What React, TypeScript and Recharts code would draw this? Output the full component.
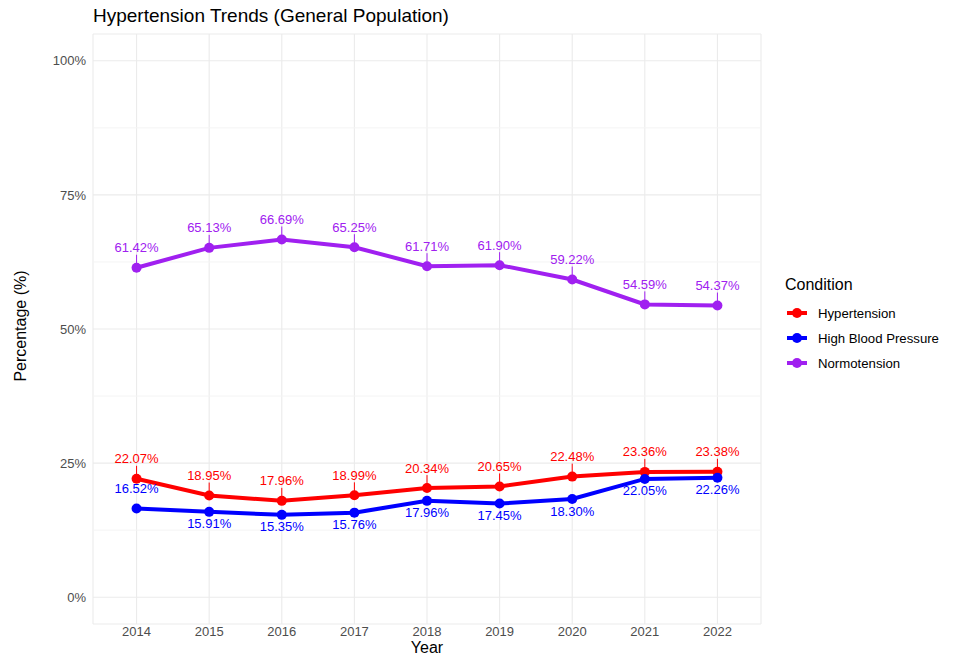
import { CartesianGrid, LabelList, Line, LineChart, ReferenceLine, XAxis, YAxis } from "recharts"

const years = [2014, 2015, 2016, 2017, 2018, 2019, 2020, 2021, 2022]
const hypertension = [22.07, 18.95, 17.96, 18.99, 20.34, 20.65, 22.48, 23.36, 23.38]
const highBloodPressure = [16.52, 15.91, 15.35, 15.76, 17.96, 17.45, 18.3, 22.05, 22.26]
const normotension = [61.42, 65.13, 66.69, 65.25, 61.71, 61.9, 59.22, 54.59, 54.37]
const yTicks = [0, 25, 50, 75, 100]
const yMinor = [12.5, 37.5, 62.5, 87.5]

const data = years.map((year, i) => ({
    year,
    hypertension: hypertension[i],
    hbp: highBloodPressure[i],
    normo: normotension[i],
}))

// High Blood Pressure labels sit under the points, except where there's room above
const hbpAbove = [2014]

const FONT = '"Liberation Sans", Arial, Helvetica, sans-serif'

const series = [
    { key: 'hypertension', name: 'Hypertension', color: '#FF0000' },
    { key: 'hbp', name: 'High Blood Pressure', color: '#0000FF' },
    { key: 'normo', name: 'Normotension', color: '#A020F0' },
]

function makeLabel(color: string, isBelow: (i: number) => boolean, segment: boolean) {
    return (props: any) => {
        const { x, y, value, index } = props
        if (x == null || y == null) return null
        const below = isBelow(index)
        const ty = below ? y + 12 : y - 20
        return (
            <g>
                {segment && !below && <line x1={x} x2={x} y1={y - 4} y2={y - 13} stroke={color} strokeWidth={1} />}
                <text x={x} y={ty} textAnchor="middle" dominantBaseline="central" fill={color} fontSize={13} fontFamily={FONT}>
                    {`${Number(value).toFixed(2)}%`}
                </text>
            </g>
        )
    }
}

export default function App() {
    return (
        <div style={{ position: 'absolute', left: 0, top: 0, width: 965, height: 657, background: '#fff', fontFamily: FONT }}>
            <div style={{ position: 'absolute', left: 93, top: 5, fontSize: 19, color: '#000', whiteSpace: 'nowrap' }}>
                Hypertension Trends (General Population)
            </div>
            <LineChart width={965} height={657} data={data} margin={{ top: 34, right: 204, bottom: 0, left: 33 }}>
                <CartesianGrid stroke="#EBEBEB" strokeWidth={1.1} />
                {yMinor.map((v) => (
                    <ReferenceLine key={v} y={v} stroke="#F4F4F4" strokeWidth={1} />
                ))}
                <XAxis
                    dataKey="year"
                    type="number"
                    domain={[2013.4, 2022.6]}
                    ticks={years}
                    allowDataOverflow
                    tickLine={false}
                    axisLine={false}
                    tickSize={0}
                    tickMargin={3}
                    height={33}
                    tick={{ fill: '#4D4D4D', fontSize: 13, fontFamily: FONT }}
                />
                <YAxis
                    type="number"
                    domain={[-5, 105]}
                    ticks={yTicks}
                    allowDataOverflow
                    tickLine={false}
                    axisLine={false}
                    tickSize={0}
                    tickMargin={7}
                    width={60}
                    tickFormatter={(v) => `${v}%`}
                    tick={{ fill: '#4D4D4D', fontSize: 13, fontFamily: FONT }}
                />
                {series.map((s) => (
                    <Line
                        key={s.key}
                        dataKey={s.key}
                        name={s.name}
                        stroke={s.color}
                        strokeWidth={4}
                        dot={{ r: 5, fill: s.color, stroke: s.color, strokeWidth: 0 }}
                        activeDot={false}
                        isAnimationActive={false}
                    >
                        <LabelList
                            dataKey={s.key}
                            content={makeLabel(
                                s.color,
                                s.key === 'hbp' ? (i: number) => !hbpAbove.includes(years[i]) : () => false,
                                s.key !== 'hbp'
                            )}
                        />
                    </Line>
                ))}
            </LineChart>
            <div style={{ position: 'absolute', left: 427, top: 648, transform: 'translate(-50%, -50%)', fontSize: 16 }}>Year</div>
            <div
                style={{
                    position: 'absolute',
                    left: 21,
                    top: 326,
                    transform: 'translate(-50%, -50%) rotate(-90deg)',
                    fontSize: 16,
                    whiteSpace: 'nowrap',
                }}
            >
                Percentage (%)
            </div>
            <div style={{ position: 'absolute', left: 785, top: 276, fontSize: 16, lineHeight: '18px' }}>Condition</div>
            {series.map((s, i) => (
                <div
                    key={s.key}
                    style={{ position: 'absolute', left: 786, top: 304 + i * 25, height: 18, display: 'flex', alignItems: 'center', whiteSpace: 'nowrap' }}
                >
                    <svg width={22} height={12}>
                        <line x1={1} x2={21} y1={6} y2={6} stroke={s.color} strokeWidth={4} />
                        <circle cx={11} cy={6} r={5} fill={s.color} />
                    </svg>
                    <span style={{ marginLeft: 10, fontSize: 13.2 }}>{s.name}</span>
                </div>
            ))}
        </div>
    )
}
